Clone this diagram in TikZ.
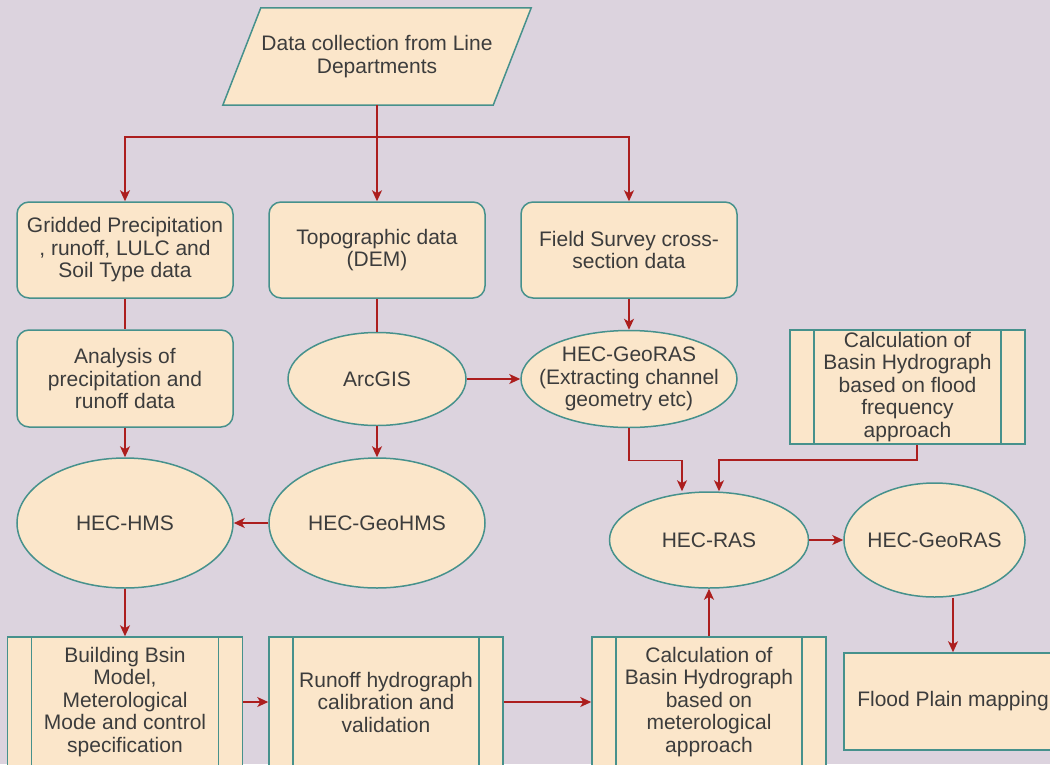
\documentclass[tikz,border=0pt]{standalone}
\usepackage{fontspec}
\setmainfont{Liberation Sans}
\usetikzlibrary{shapes.geometric,arrows.meta,backgrounds,positioning}
\definecolor{bgcol}{RGB}{220,211,222}
\definecolor{boxfill}{RGB}{251,230,202}
\definecolor{boxline}{RGB}{70,145,140}
\definecolor{arrcol}{RGB}{172,30,30}
\definecolor{txtcol}{RGB}{60,60,60}

\begin{document}
\begin{tikzpicture}[x=1pt, y=-1pt,
		every node/.append style={font=\fontsize{21}{22.5}\selectfont, text=txtcol, align=center, inner sep=0pt},
		rbox/.style={draw=boxline, fill=boxfill, line width=1.5pt, rounded corners=12pt, minimum width=216pt, minimum height=96pt},
		oval/.style={ellipse, draw=boxline, fill=boxfill, line width=1.5pt, inner sep=-25pt},
		pbox/.style={draw=boxline, fill=boxfill, line width=1.5pt, minimum width=235pt,
			path picture={\draw[boxline, line width=1.5pt]
				([xshift=24pt]path picture bounding box.north west) -- ([xshift=24pt]path picture bounding box.south west)
				([xshift=-24pt]path picture bounding box.north east) -- ([xshift=-24pt]path picture bounding box.south east);}},
		link/.style={draw=arrcol, line width=1.5pt},
		arr/.style={link, -{Stealth[length=11pt, width=10pt, inset=3pt]}}]
	\useasboundingbox (0,0) rectangle (1050,764);

	\node[minimum width=270pt, minimum height=97pt] (data) at (377,56.5) {Data collection from Line\\Departments};
	\node[rbox] (grid) at (125,250) {Gridded Precipitation\\, runoff, LULC and\\Soil Type data};
	\node[rbox] (topo) at (377,250) {Topographic data\\(DEM)};
	\node[rbox] (field) at (629,250) {Field Survey cross-\\section data};
	\node[rbox, minimum height=97pt] (anal) at (125,378.5) {Analysis of\\precipitation and\\runoff data};
	\node[oval, minimum width=178pt, minimum height=93pt] (arcgis) at (377,379) {ArcGIS};
	\node[oval, minimum width=216pt, minimum height=97pt] (georas) at (629,379) {HEC-GeoRAS\\(Extracting channel\\geometry etc)};
	\node[pbox, minimum height=114pt] (calcff) at (907.5,387) {Calculation of\\Basin Hydrograph\\based on flood\\frequency\\approach};
	\node[oval, minimum width=216pt, minimum height=130pt] (hms) at (125,523) {HEC-HMS};
	\node[oval, minimum width=216pt, minimum height=130pt] (geohms) at (377,523) {HEC-GeoHMS};
	\node[oval, minimum width=199pt, minimum height=96pt] (hecras) at (709,540) {HEC-RAS};
	\node[oval, minimum width=181pt, minimum height=114pt] (georas2) at (934.5,540) {HEC-GeoRAS};
	\node[pbox, minimum height=130pt] (build) at (125,702) {Building Bsin\\Model,\\Meterological\\Mode and control\\specification};
	\node[pbox, minimum width=234pt, minimum height=130pt] (runoff) at (386,702) {Runoff hydrograph\\calibration and\\validation};
	\node[pbox, minimum width=234pt, minimum height=130pt] (calcmet) at (709,702) {Calculation of\\Basin Hydrograph\\based on\\meterological\\approach};
	\node[draw=boxline, fill=boxfill, line width=1.5pt, minimum width=218pt, minimum height=97pt] (flood) at (953,701.5) {Flood Plain mapping};

	\begin{scope}[on background layer]
		\fill[bgcol] (0,0) rectangle (1050,764);
		\filldraw[draw=boxline, fill=boxfill, line width=1.5pt] ([xshift=-19pt]data.south west) -- ([xshift=19pt]data.north west)
			-- ([xshift=19pt]data.north east) -- ([xshift=-19pt]data.south east) -- cycle;
	\end{scope}

	\draw[arr] (data) -- (topo);
	\draw[arr] (data.south) -- ++(0,32) -| (grid.north);
	\draw[arr] (data.south) -- ++(0,32) -| (field.north);
	\draw[link] (grid) -- (anal);
	\draw[link] (topo) -- (arcgis);
	\draw[arr] (anal) -- (hms);
	\draw[arr] (arcgis) -- (geohms);
	\draw[arr] (field) -- (georas);
	\draw[arr] (arcgis) -- (georas);
	\draw[arr] (geohms) -- (hms);
	\draw[arr] (hms) -- (build);
	\draw[arr] (build) -- (runoff);
	\draw[arr] (runoff) -- (calcmet);
	\draw[arr] (calcmet) -- (hecras);
	\draw[arr] (hecras) -- (georas2);
	\draw[arr] (georas.south) -- ++(0,32) -| ([xshift=-27pt]hecras.north);
	\draw[arr] ([xshift=9.5pt]calcff.south) -- ++(0,15) -| ([xshift=10pt]hecras.north);
	\draw[arr] (georas2.south -| flood.north) -- (flood.north);
\end{tikzpicture}
\end{document}
